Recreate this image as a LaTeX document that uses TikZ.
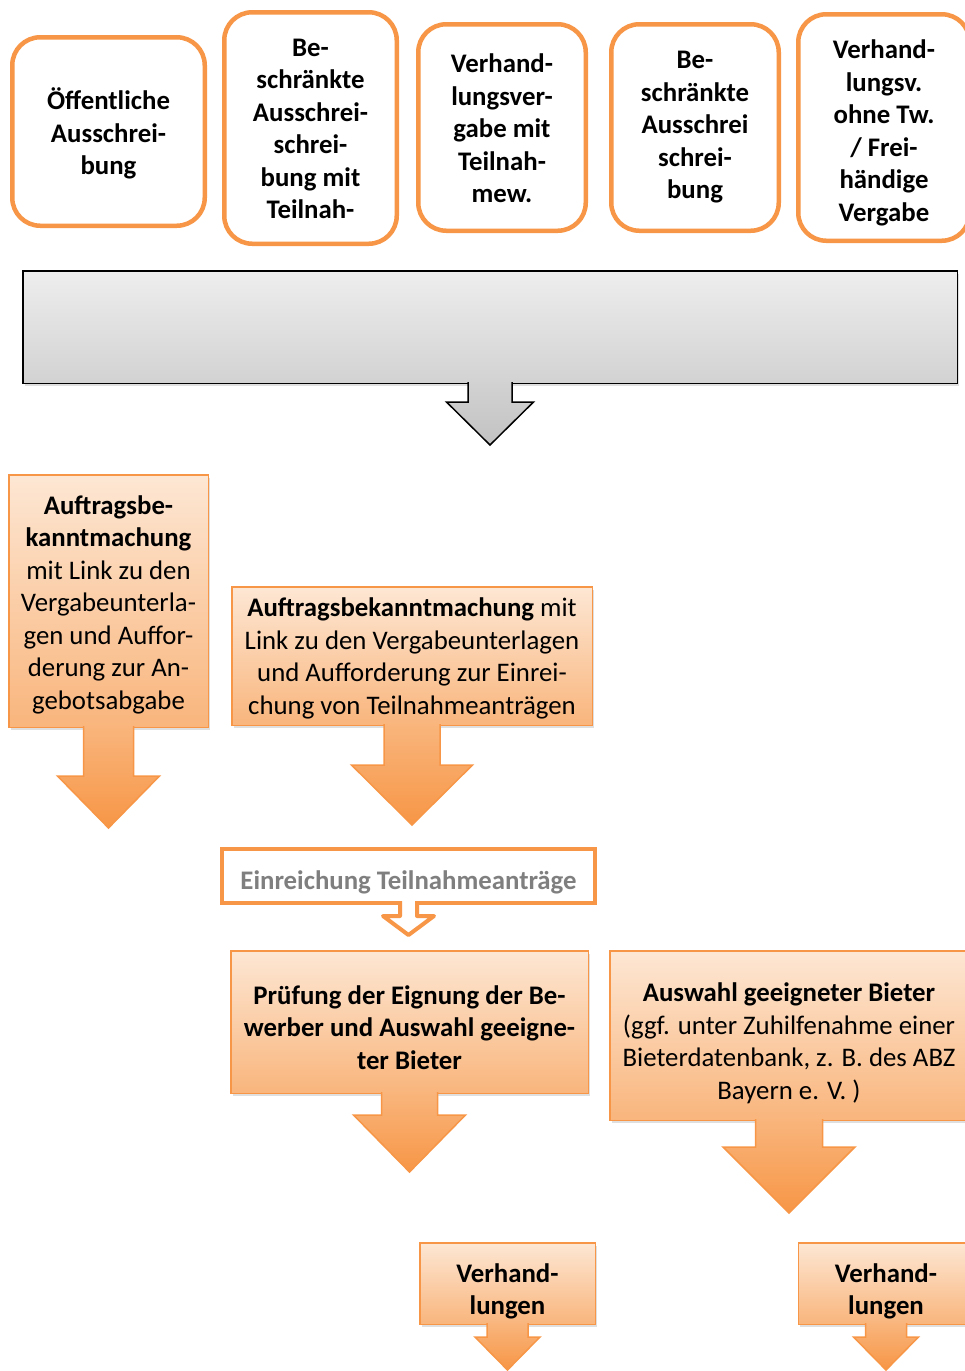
\documentclass[tikz,border=0pt]{standalone}
\usepackage{fontspec}
\setmainfont{Carlito}
\usetikzlibrary{shadows}
\definecolor{accent}{HTML}{F79646}
\definecolor{peach}{HTML}{FDE7D4}
\definecolor{peachmid}{HTML}{F9B57C}
\definecolor{greytop}{HTML}{EEEEEE}
\definecolor{greybot}{HTML}{D2D2D2}
\definecolor{greyend}{HTML}{C2C2C2}
\definecolor{labelgrey}{HTML}{7F7F7F}

\begin{document}
\begin{tikzpicture}[x=1pt,y=-1pt,
  every node/.style={font=\fontsize{26.8}{32.5}\selectfont,align=center,inner sep=0pt},
  boldtext/.style={font=\fontsize{26.8}{32.5}\selectfont\bfseries},
  procbox/.style={draw=accent,line width=4.5pt,rounded corners=28pt,fill=white},
  callbox/.style={draw=accent,line width=1.5pt,top color=peach,bottom color=peachmid,
    drop shadow={shadow xshift=2pt,shadow yshift=-3pt,opacity=0.25}},
  calltip/.style={draw=accent,line width=1.5pt,top color=peachmid,bottom color=accent},
  greybox/.style={draw=black,line width=1.5pt,top color=greytop,bottom color=greybot,
    drop shadow={shadow xshift=2pt,shadow yshift=-3pt,opacity=0.25}},
  greytip/.style={draw=black,line width=1.5pt,top color=greybot,bottom color=greyend},
  hintbox/.style={draw=accent,line width=4pt,fill=white},
  hinttip/.style={draw=accent,line width=4pt,fill=white,line join=round}]
  \useasboundingbox (0,0) rectangle (964,1371);

  % Vergabearten
  \node[procbox,minimum width=192.5pt,minimum height=188.5pt] (oeff)    at (108.5,131.5) {};
  \node[procbox,minimum width=172.5pt,minimum height=231.5pt] (beschrT) at (310.5,128)   {};
  \node[procbox,minimum width=167.5pt,minimum height=206.5pt] (verhT)   at (502,127.5)   {};
  \node[procbox,minimum width=167.5pt,minimum height=206.5pt] (beschr)  at (695,127.5)   {};
  \node[procbox,minimum width=171.5pt,minimum height=226.5pt] (freih)   at (884,127.5)   {};
  \node[boldtext] (oefftxt)    at ([yshift=-2pt]oeff.center)    {Öffentliche\\Ausschrei-\\bung};
  \node[boldtext] (beschrTtxt) at ([yshift=-1pt]beschrT.center) {Be-\\schränkte\\Ausschrei-\\schrei-\\bung mit\\Teilnah-};
  \node[boldtext] (verhTtxt)   at ([yshift=-1pt]verhT.center)   {Verhand-\\lungsver-\\gabe mit\\Teilnah-\\mew.};
  \node[boldtext] (beschrtxt)  at (beschr.center)               {Be-\\schränkte\\Ausschrei\\schrei-\\bung};
  \node[boldtext] (freihtxt)   at ([yshift=-5.5pt]freih.center) {Verhand-\\lungsv.\\ohne Tw.\\/ Frei-\\händige\\Vergabe};

  % Vergabe
  \node[greybox,minimum width=934.5pt,minimum height=112.5pt] (vergabe) at (490,327) {};
  \path[greytip] ([xshift=-22pt,yshift=2pt]vergabe.south) -- ++(0,20) -- ++(-21.5,0) -- ++(43.5,43) -- ++(43.5,-43) -- ++(-21.5,0) -- ++(0,-20);

  % Bekanntmachung
  \node[callbox,minimum width=199.5pt,minimum height=252.5pt] (bekA) at (108.5,601) {};
  \path[calltip] ([xshift=-25pt,yshift=2pt]bekA.south) -- ++(0,50) -- ++(-26,0) -- ++(51,52) -- ++(51,-52) -- ++(-26,0) -- ++(0,-50);
  \node (bekAtxt) at ([yshift=-3.5pt]bekA.center)
    {\textbf{Auftragsbe-}\\\textbf{kanntmachung}\\mit Link zu den\\Vergabeunterla-\\gen und Auffor-\\derung zur An-\\gebotsabgabe};
  \node[callbox,minimum width=360.5pt,minimum height=138.5pt] (bekB) at (412,656) {};
  \path[calltip] ([xshift=-28pt,yshift=2pt]bekB.south) -- ++(0,41) -- ++(-32.5,0) -- ++(60.5,60) -- ++(60.5,-60) -- ++(-32.5,0) -- ++(0,-41);
  \node (bekBtxt) at ([yshift=-2.5pt]bekB.center)
    {\textbf{Auftragsbekanntmachung} mit\\Link zu den Vergabeunterlagen\\und Aufforderung zur Einrei-\\chung von Teilnahmeanträgen};

  % Teilnahmeantraege
  \node[hintbox,minimum width=373pt,minimum height=54pt] (einr) at (408.5,876) {};
  \path[hinttip] ([xshift=-8.5pt,yshift=4pt]einr.south) -- ++(0,15) -- ++(-17,0) -- ++(25.5,19) -- ++(25.5,-19) -- ++(-17,0) -- ++(0,-15);
  \node[boldtext,text=labelgrey] (einrtxt) at ([yshift=-6pt]einr.center) {Einreichung Teilnahmeanträge};

  % Auswahl der Bieter
  \node[callbox,minimum width=357.5pt,minimum height=142.5pt] (pruef) at (409.5,1022) {};
  \path[calltip] ([xshift=-28pt,yshift=2pt]pruef.south) -- ++(0,23) -- ++(-28,0) -- ++(56,57) -- ++(56,-57) -- ++(-28,0) -- ++(0,-23);
  \node[boldtext] (prueftxt) at ([yshift=-5.5pt]pruef.center)
    {Prüfung der Eignung der Be-\\werber und Auswahl geeigne-\\ter Bieter};
  \node[callbox,minimum width=358.5pt,minimum height=169.5pt] (auswahl) at (789,1035.5) {};
  \path[calltip] ([xshift=-33.5pt,yshift=2pt]auswahl.south) -- ++(0,28) -- ++(-32.5,0) -- ++(66,66) -- ++(66,-66) -- ++(-32.5,0) -- ++(0,-28);
  \node (auswahltxt) at ([yshift=-7.5pt]auswahl.center)
    {\textbf{Auswahl geeigneter Bieter}\\(ggf. unter Zuhilfenahme einer\\Bieterdatenbank, z. B. des ABZ\\Bayern e. V. )};

  % Verhandlungen
  \node[callbox,minimum width=175.5pt,minimum height=81.5pt] (verhA) at (507.5,1283.5) {};
  \path[calltip] ([xshift=-20.5pt,yshift=2pt]verhA.south) -- ++(0,14) -- ++(-12,0) -- ++(32.5,33) -- ++(32.5,-33) -- ++(-12,0) -- ++(0,-14);
  \node[boldtext] (verhAtxt) at ([yshift=-8pt]verhA.center) {Verhand-\\lungen};
  \node[callbox,minimum width=175.5pt,minimum height=81.5pt] (verhB) at (886,1283.5) {};
  \path[calltip] ([xshift=-20.5pt,yshift=2pt]verhB.south) -- ++(0,14) -- ++(-12,0) -- ++(32.5,33) -- ++(32.5,-33) -- ++(-12,0) -- ++(0,-14);
  \node[boldtext] (verhBtxt) at ([yshift=-8pt]verhB.center) {Verhand-\\lungen};
\end{tikzpicture}
\end{document}
